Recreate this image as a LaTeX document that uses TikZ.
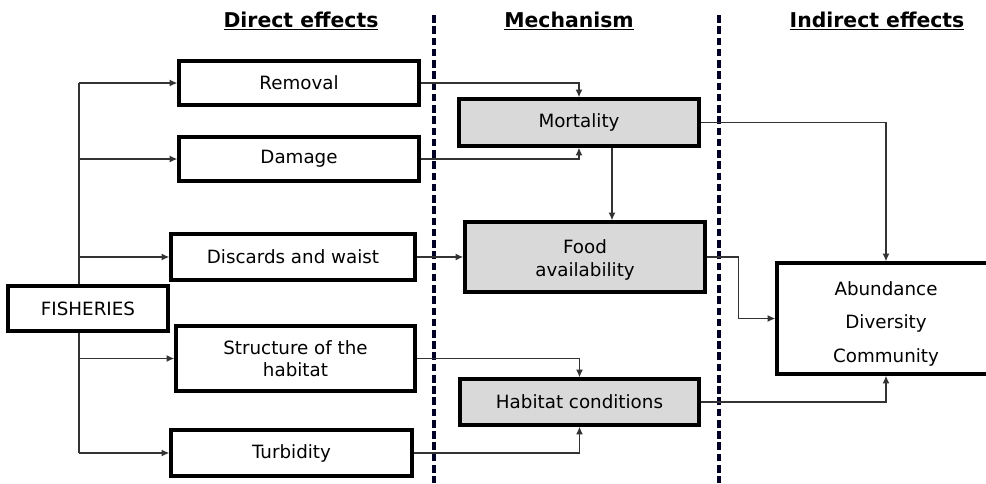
\documentclass[tikz,border=0pt]{standalone}
\usepackage{fontspec}
\setmainfont{DejaVu Sans}
\usepackage{xcolor}
\usetikzlibrary{arrows.meta}
\definecolor{LineGray}{rgb}{0.2, 0.2, 0.2}
\definecolor{BoxGray}{rgb}{0.85, 0.85, 0.85}
\tikzset{
  box/.style={draw, line width=2.4pt, align=center, inner sep=0pt, fill=white,
    font=\fontsize{13}{16}\selectfont},
  mechbox/.style={box, fill=BoxGray},
  head/.style={font=\fontsize{14.5}{16}\selectfont\bfseries},
  conn/.style={LineGray, line width=0.9pt},
  arr/.style={conn, -{Latex[length=5.5pt,width=5pt]}},
  divider/.style={black!85!blue, line width=2.4pt, dash pattern=on 5.5pt off 2.5pt}
}

\begin{document}
\begin{tikzpicture}[x=0.025cm, y=-0.025cm]
            \clip (0,0) rectangle (986,483);

            % column headers and dividers
            \node[head] (hdirect) at (301,21) {\underline{Direct effects}};
            \node[head] (hmech) at (569,21) {\underline{Mechanism}};
            \node[head] (hindirect) at (877,21) {\underline{Indirect effects}};
            \draw[divider] (434,15) -- (434,483);
            \draw[divider] (719,15) -- (719,483);

            % direct effects
            \node[box, minimum width=4cm, minimum height=1.125cm] (fisheries) at (88,308.5) {FISHERIES};
            \node[box, minimum width=6cm, minimum height=1.1cm] (removal) at (299,83) {Removal};
            \node[box, minimum width=6cm, minimum height=1.1cm] (damage) at (299,159) {Damage};
            \node[box, minimum width=6.1cm, minimum height=1.15cm] (discards) at (293,257) {Discards and waist};
            \node[box, minimum width=5.975cm, minimum height=1.625cm] (structure) at (295.5,358.5) {Structure of the\\habitat};
            \node[box, minimum width=6.025cm, minimum height=1.15cm] (turbidity) at (291.5,453) {Turbidity};

            % mechanisms
            \node[mechbox, minimum width=6cm, minimum height=1.75cm] (food) at (585,257) {};
            \node[align=center, font=\fontsize{13}{16}\selectfont] (foodtext) at ([yshift=-0.07cm]food.center) {Food\\availability};
            \node[mechbox, minimum width=6cm, minimum height=1.175cm] (mortality) at (579,122.5) {Mortality};
            \node[mechbox, minimum width=5.975cm, minimum height=1.15cm] (habitat) at (579.5,402) {Habitat conditions};

            % indirect effects
            \node[box, minimum width=5.45cm, minimum height=2.775cm] (outcome) at (886,318.5) {};
            \node[align=center, font=\fontsize{13}{24}\selectfont] (outcometext) at ([yshift=-0.13cm]outcome.center) {Abundance\\Diversity\\Community};

            % fisheries trunk
            \coordinate (trunk) at (79,0);
            \draw[conn] (removal.west -| trunk) -- (fisheries.north -| trunk);
            \draw[conn] (fisheries.south -| trunk) -- (turbidity.west -| trunk);
            \foreach \eff in {removal,damage,discards,structure,turbidity}
                \draw[arr] (\eff.west -| trunk) -- (\eff.west);

            % direct -> mechanism
            \draw[arr] (removal.east) -| (mortality.north);
            \draw[arr] (damage.east) -| (mortality.south);
            \draw[arr] (discards.east) -- (food.west);
            \draw[arr] (structure.east) -| (habitat.north);
            \draw[arr] (turbidity.east) -| (habitat.south);
            \coordinate (mfood) at (612,0);
            \draw[arr] (mortality.south -| mfood) -- (food.north -| mfood);

            % mechanism -> indirect
            \draw[arr] (mortality.east) -| (outcome.north);
            \draw[arr] (food.east) -- ++(32,0) |- (outcome.west);
            \draw[arr] (habitat.east) -| (outcome.south);
        \end{tikzpicture}
\end{document}
